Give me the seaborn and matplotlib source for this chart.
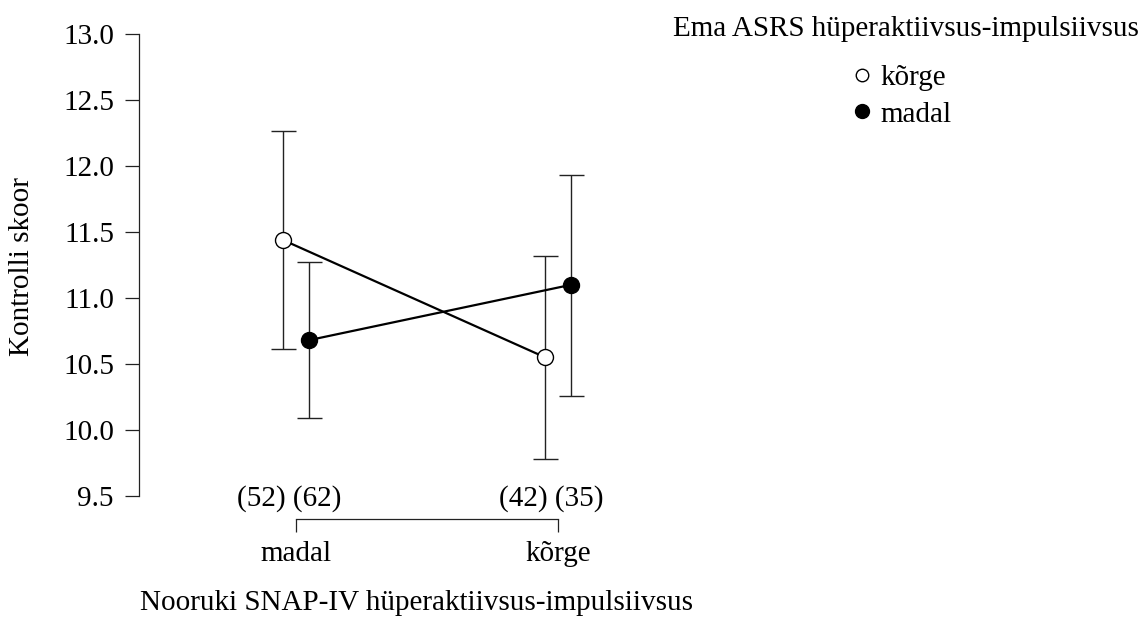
import numpy as np
import pandas as pd
import matplotlib
matplotlib.use("Agg")
import matplotlib.pyplot as plt
import seaborn as sns
from matplotlib.lines import Line2D

# Adolescent SNAP-IV hyperactivity-impulsivity groups (x categories)
child_levels = ["madal", "kõrge"]
# Mother ASRS hyperactivity-impulsivity groups (hue)
mother_levels = ["kõrge", "madal"]

# Mean control score and interval bounds per group
mean_korge = [11.44, 10.55]
lo_korge = [10.61, 9.78]
hi_korge = [12.27, 11.32]

mean_madal = [10.68, 11.10]
lo_madal = [10.09, 10.26]
hi_madal = [11.27, 11.93]

# Group sizes
n_korge = [52, 42]
n_madal = [62, 35]

y_ticks = [9.5, 10.0, 10.5, 11.0, 11.5, 12.0, 12.5, 13.0]

df = pd.DataFrame({
    "child": child_levels * 2,
    "mother": [mother_levels[0]] * 2 + [mother_levels[1]] * 2,
    "mean": mean_korge + mean_madal,
    "lo": lo_korge + lo_madal,
    "hi": hi_korge + hi_madal,
})

FS = 21
sns.set_theme(style="ticks")
plt.rcParams["font.family"] = ["Liberation Serif", "DejaVu Serif"]
plt.rcParams["font.size"] = FS
plt.rcParams["xtick.labelsize"] = FS
plt.rcParams["ytick.labelsize"] = FS
plt.rcParams["text.color"] = "black"
plt.rcParams["axes.labelcolor"] = "black"
plt.rcParams["xtick.color"] = "#222222"
plt.rcParams["ytick.color"] = "#222222"
plt.rcParams["xtick.labelcolor"] = "black"
plt.rcParams["ytick.labelcolor"] = "black"

W, H = 1146, 619
fig = plt.figure(figsize=(W / 100, H / 100), dpi=100)
ax = fig.add_axes([139 / W, (H - 495.7) / H, (600 - 139) / W, (495.7 - 34.3) / H])

sns.pointplot(
    data=df, x="child", y="mean", hue="mother",
    order=child_levels, hue_order=mother_levels,
    palette={"kõrge": "black", "madal": "black"},
    dodge=0.1, errorbar=None, markers="o", linestyles="-",
    legend=False, ax=ax,
    markersize=11.5, markeredgewidth=1.0, linewidth=1.6,
)

# Style the series lines and attach interval whiskers at the dodged positions
series_lines = [ln for ln in ax.lines if len(ln.get_xdata()) == 2]
for ln, level in zip(series_lines, mother_levels):
    ln.set_zorder(4)
    ln.set_markeredgecolor("black")
    ln.set_markerfacecolor("white" if level == "kõrge" else "black")
    sub = df[df["mother"] == level].set_index("child").loc[child_levels]
    xs = np.asarray(ln.get_xdata(), dtype=float)
    ax.errorbar(
        xs, sub["mean"], yerr=[sub["mean"] - sub["lo"], sub["hi"] - sub["mean"]],
        fmt="none", ecolor="#222222", elinewidth=1.0, capsize=9, capthick=1.0,
        zorder=2,
    )

ax.set_xlim(-0.599, 1.160)
ax.set_ylim(9.5, 13.0)
ax.set_yticks(y_ticks)
ax.set_yticklabels([f"{v:.1f}" for v in y_ticks])
ax.set_xticks([0, 1])
ax.set_xticklabels(child_levels)
ax.set_xlabel("")
ax.set_ylabel("")

for side in ("top", "right"):
    ax.spines[side].set_visible(False)
ax.spines["left"].set_linewidth(0.9)
ax.spines["left"].set_color("#222222")
ax.spines["bottom"].set_linewidth(0.9)
ax.spines["bottom"].set_color("#222222")
ax.spines["bottom"].set_position(("outward", 17))
ax.spines["bottom"].set_bounds(0, 1)
ax.tick_params(axis="y", length=10, width=0.9, pad=8, direction="out", labelsize=FS)
ax.tick_params(axis="x", length=9.6, width=0.9, pad=6, direction="out", labelsize=FS)

# Group sizes above the bracket
for i, (a, b) in enumerate(zip(n_korge, n_madal)):
    ax.annotate(f"({a}) ({b})", xy=(i, 9.5), xytext=(-5, -2),
                textcoords="offset points", ha="center", va="center", fontsize=FS)

fig.text(22 / W, 1 - 267 / H, "Kontrolli skoor", rotation=90,
         ha="center", va="center", fontsize=FS)
fig.text(417 / W, 1 - 603 / H, "Nooruki SNAP-IV hüperaktiivsus-impulsiivsus",
         ha="center", va="center", fontsize=FS)

# Legend: title placed above the entry column
fig.text(906 / W, 1 - 29 / H, "Ema ASRS hüperaktiivsus-impulsiivsus",
         ha="center", va="center", fontsize=FS)
handles = [
    Line2D([], [], marker="o", linestyle="", markerfacecolor="white",
           markeredgecolor="black", markeredgewidth=1.0, markersize=9),
    Line2D([], [], marker="o", linestyle="", markerfacecolor="black",
           markeredgecolor="black", markeredgewidth=1.0, markersize=10),
]
fig.legend(handles, mother_levels,
           loc="upper center", bbox_to_anchor=(901 / W, 1 - 50 / H),
           frameon=False, fontsize=FS,
           handlelength=0.8, handletextpad=0.25, labelspacing=0.35,
           borderpad=0.0)

fig.savefig("out.png", dpi=100, facecolor="white")
